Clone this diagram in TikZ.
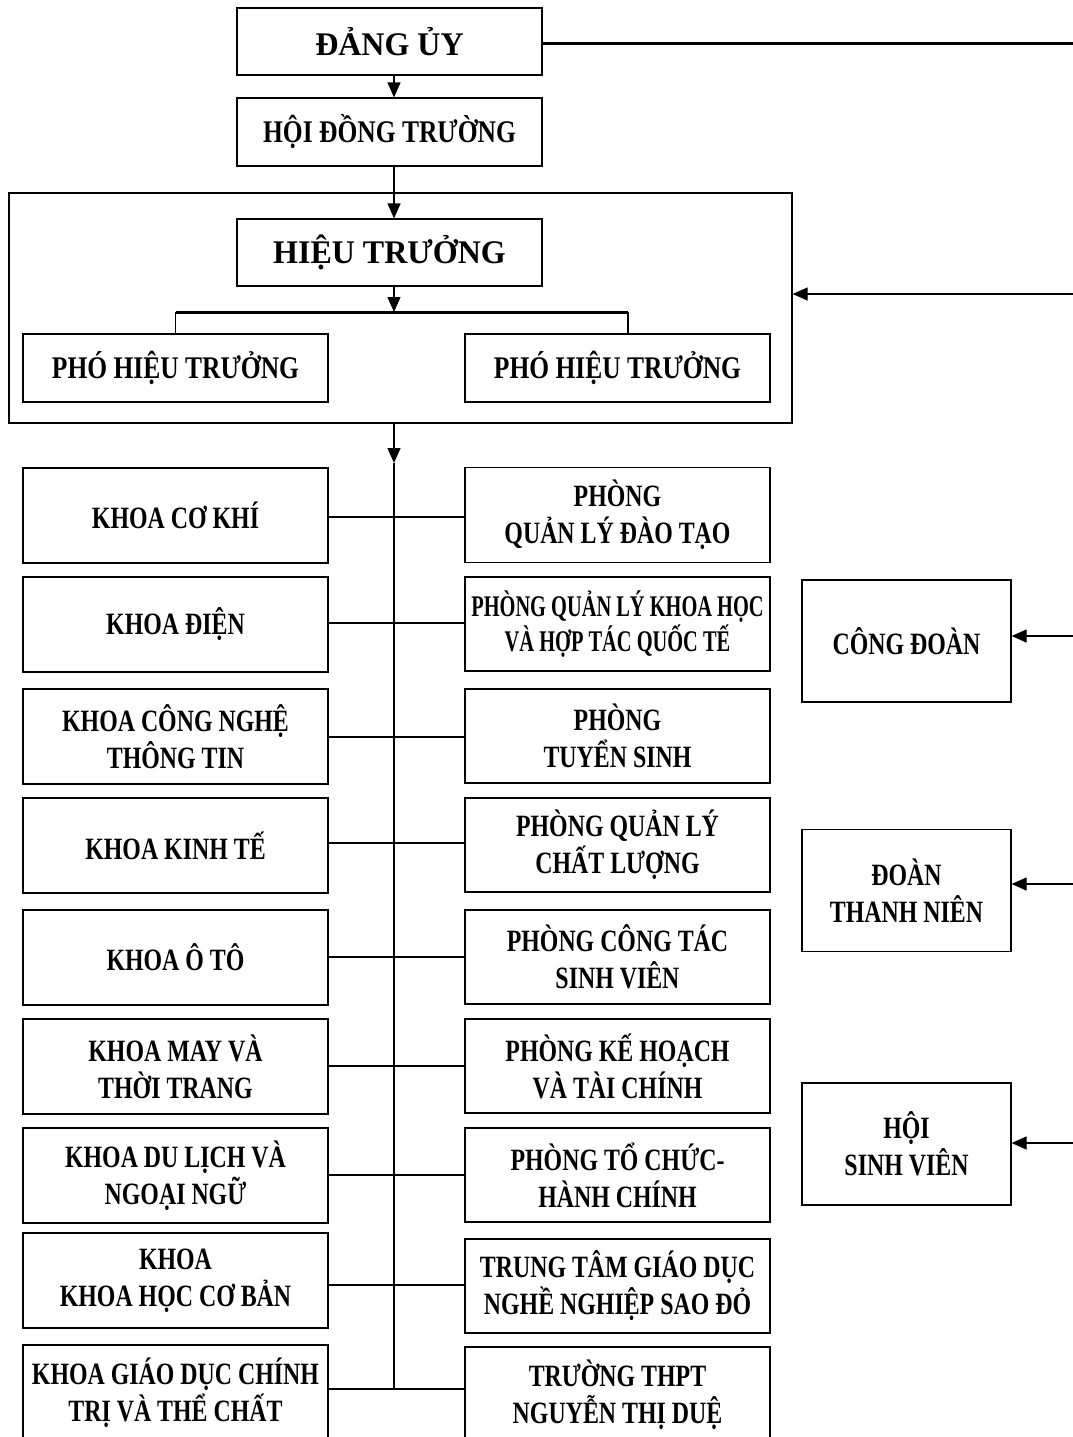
\documentclass[tikz,border=0pt]{standalone}
\usepackage{fontspec}
\usetikzlibrary{arrows.meta}
\newfontfamily\fBig[FakeStretch=0.97]{Liberation Serif}
\newfontfamily\fMid[FakeStretch=0.81]{Liberation Serif}
\newfontfamily\fList[FakeStretch=0.77]{Liberation Serif}
\newfontfamily\fTight[FakeStretch=0.68]{Liberation Serif}
\tikzset{
  box/.style={draw, line width=1.2pt, inner sep=0pt, align=center, minimum width=305pt},
  bigtxt/.style={font={\fBig\bfseries\fontsize{33}{37}\selectfont}},
  midtxt/.style={font={\fMid\bfseries\fontsize{31.5}{37}\selectfont}},
  listtxt/.style={font={\fList\bfseries\fontsize{31}{37}\selectfont}},
  tighttxt/.style={font={\fTight\bfseries\fontsize{30}{35}\selectfont}},
  lbox/.style={box, listtxt, minimum height=95pt},
  sbox/.style={draw, line width=1.2pt, inner sep=0pt, align=center, minimum width=209pt, minimum height=122pt, listtxt},
  conn/.style={line width=1.2pt},
  arr/.style={line width=1.2pt, -{Triangle[length=15pt,width=13pt]}}
}
\begin{document}
\begin{tikzpicture}[x=1pt,y=-1pt]
\useasboundingbox (0,0) rectangle (1073,1437);
\clip (0,0) rectangle (1073,1437);
\fill[white] (0,0) rectangle (1073,1437);

% top chain
\node[box, bigtxt, minimum height=67pt] (dang) at (389.5,41.5) {ĐẢNG ỦY};
\node[box, midtxt, minimum height=68pt] (hdt) at (389.5,132) {HỘI ĐỒNG TRƯỜNG};
\node[draw, line width=1.2pt, minimum width=783pt, minimum height=230pt, inner sep=0pt] (outer) at (400.5,308) {};
\node[box, bigtxt, minimum height=67pt] (ht) at (389.5,252.5) {HIỆU TRƯỞNG};
\node[box, midtxt, minimum height=68pt] (p1) at (175.5,368) {PHÓ HIỆU TRƯỞNG};
\node[box, midtxt, minimum height=68pt] (p2) at (617.5,368) {PHÓ HIỆU TRƯỞNG};

% spine coordinates
\coordinate (s0) at (394,75);
\coordinate (s1) at (394,166);
\coordinate (s2) at (394,286);
\coordinate (bar) at (394,312);
\coordinate (bl) at (175.5,312);
\coordinate (br) at (628,312);
\coordinate (s3) at (394,423);
\coordinate (s4) at (394,463);
\coordinate (s5) at (394,1389);

\draw[arr] (s0) -- (s0 |- hdt.north);
\draw[arr] (s1) -- (s1 |- ht.north);
\draw[line width=3pt] (bl) -- (br);
\draw[conn] (bl) -- (p1.north);
\draw[conn] (br) -- (br |- p2.north);
\draw[arr] (s2) -- (bar);
\draw[arr] (s3) -- (s4);
\draw[conn] (s4) -- (s5);

% left column
\node[lbox] (l1) at (175.5,515.5) {KHOA CƠ KHÍ};
\node[lbox] (l2) at (175.5,624.5) {KHOA ĐIỆN};
\node[lbox] (l3) at (175.5,736.5) {KHOA CÔNG NGHỆ\\THÔNG TIN};
\node[lbox] (l4) at (175.5,845.5) {KHOA KINH TẾ};
\node[lbox] (l5) at (175.5,957.5) {KHOA Ô TÔ};
\node[lbox] (l6) at (175.5,1066.5) {KHOA MAY VÀ\\THỜI TRANG};
\node[lbox] (l7) at (175.5,1175.5) {KHOA DU LỊCH VÀ\\NGOẠI NGỮ};
\node[lbox] (l8) at (175.5,1280.5) {KHOA\\KHOA HỌC CƠ BẢN};
\node[lbox] (l9) at (175.5,1392.5) {KHOA GIÁO DỤC CHÍNH\\TRỊ VÀ THỂ CHẤT};

% right column
\node[lbox] (r1) at (617.5,515) {PHÒNG\\QUẢN LÝ ĐÀO TẠO};
\node[box, tighttxt, minimum height=94pt] (r2) at (617.5,624) {PHÒNG QUẢN LÝ KHOA HỌC\\VÀ HỢP TÁC QUỐC TẾ};
\node[lbox, minimum height=94pt] (r3) at (617.5,736) {PHÒNG\\TUYỂN SINH};
\node[lbox, minimum height=94pt] (r4) at (617.5,845) {PHÒNG QUẢN LÝ\\CHẤT LƯỢNG};
\node[lbox, minimum height=94pt] (r5) at (617.5,957) {PHÒNG CÔNG TÁC\\SINH VIÊN};
\node[lbox, minimum height=94pt] (r6) at (617.5,1066) {PHÒNG KẾ HOẠCH\\VÀ TÀI CHÍNH};
\node[lbox, minimum height=94pt] (r7) at (617.5,1175) {PHÒNG TỔ CHỨC-\\HÀNH CHÍNH};
\node[lbox, minimum height=94pt] (r8) at (617.5,1286) {TRUNG TÂM GIÁO DỤC\\NGHỀ NGHIỆP SAO ĐỎ};
\node[lbox] (r9) at (617.5,1394.5) {TRƯỜNG THPT\\NGUYỄN THỊ DUỆ};

% row connectors
\draw[conn] (l1.east |- 0,517) -- (r1.west |- 0,517);
\draw[conn] (l2.east |- 0,623) -- (r2.west |- 0,623);
\draw[conn] (l3.east |- 0,737) -- (r3.west |- 0,737);
\draw[conn] (l4.east |- 0,843) -- (r4.west |- 0,843);
\draw[conn] (l5.east |- 0,957) -- (r5.west |- 0,957);
\draw[conn] (l6.east |- 0,1066) -- (r6.west |- 0,1066);
\draw[conn] (l7.east |- 0,1175) -- (r7.west |- 0,1175);
\draw[conn] (l8.east |- 0,1285) -- (r8.west |- 0,1285);
\draw[conn] (l9.east |- s5) -- (r9.west |- s5);

% right side organisations
\node[sbox] (cd) at (906.5,641) {CÔNG ĐOÀN};
\node[sbox] (dtn) at (906.5,890.5) {ĐOÀN\\THANH NIÊN};
\node[sbox] (hsv) at (906.5,1144) {HỘI\\SINH VIÊN};

\coordinate (e0) at (1073,44);
\coordinate (e1) at (1073,294);
\coordinate (e2) at (1073,636);
\coordinate (e3) at (1073,884);
\coordinate (e4) at (1073,1143);

\draw[line width=3pt] (e0) -- (dang.east |- e0);
\draw[arr] (e1) -- (outer.east |- e1);
\draw[arr] (e2) -- (cd.east |- e2);
\draw[arr] (e3) -- (dtn.east |- e3);
\draw[arr] (e4) -- (hsv.east |- e4);
\end{tikzpicture}
\end{document}
